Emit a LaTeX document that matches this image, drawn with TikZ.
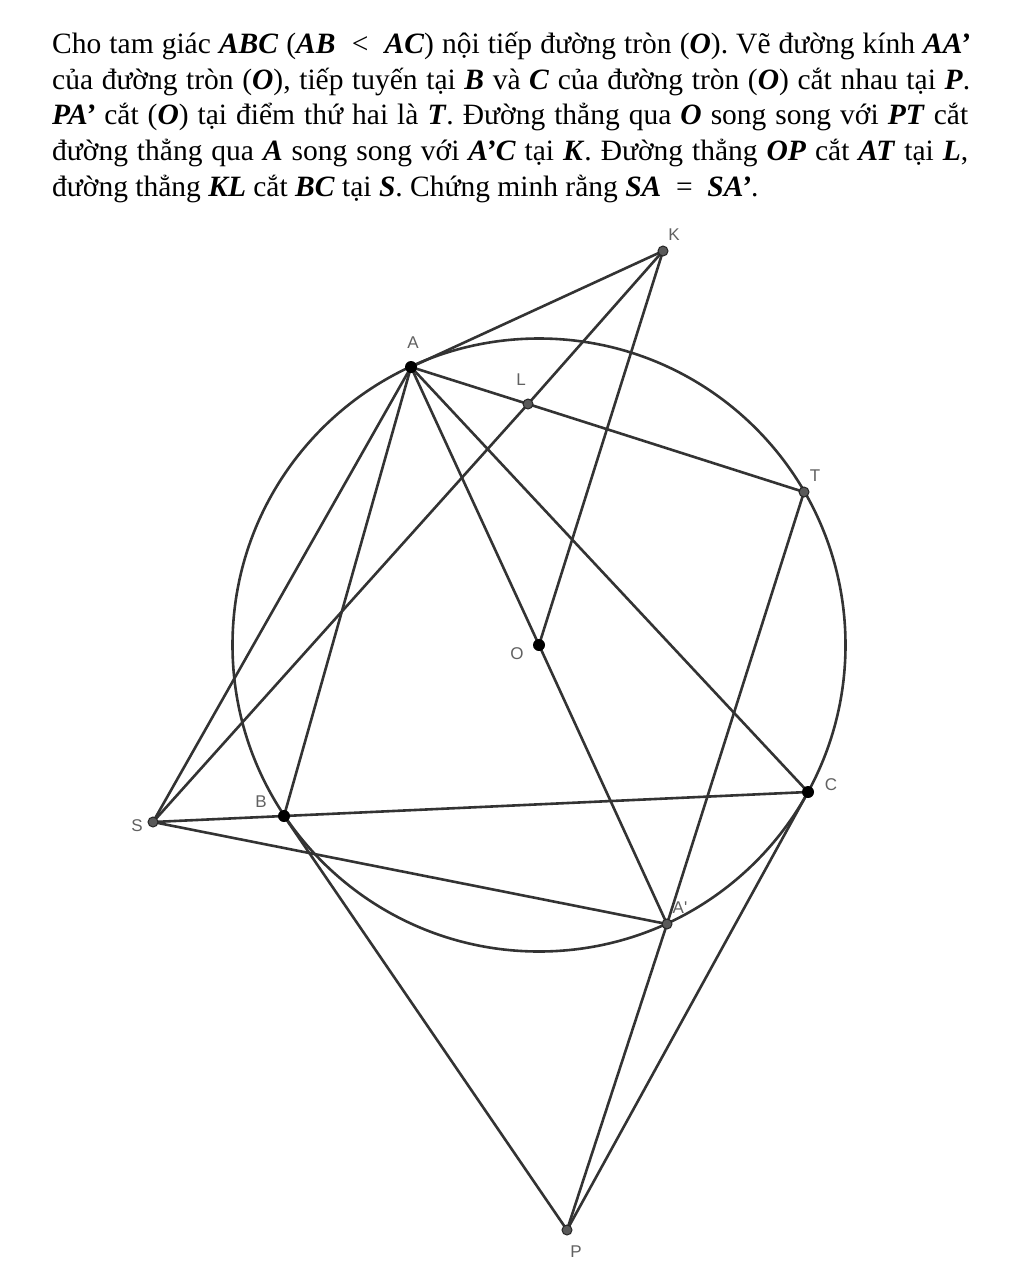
\documentclass[tikz,border=0pt]{standalone}
\usepackage{fontspec}
\setmainfont{Liberation Serif}
\newfontfamily\lblfont{Liberation Sans}
\newcommand\mb[1]{\textbf{\textit{#1}}}
\begin{document}
\begin{tikzpicture}[x=1pt,y=-1pt,
  geo/.style={draw=black!80, line width=2.6pt, line cap=round, line join=round},
  bigpt/.style={circle, fill=black, inner sep=0pt, minimum size=12pt},
  smallpt/.style={circle, fill=black!65, draw=black!85, line width=1pt, inner sep=0pt, minimum size=10pt},
  lbl/.style={font=\lblfont\fontsize{17}{17}\selectfont, text=black!62, inner sep=0pt},
  txt/.style={anchor=base west, inner sep=0pt, font=\fontsize{29.5}{35}\selectfont}]
\useasboundingbox (0,0) rectangle (1027,1275);
\fill[white] (0,0) rectangle (1027,1275);

% text
\node[txt] (l1) at (52,53) {\makebox[918pt][s]{Cho tam giác \mb{ABC} (\mb{AB}\ \ <\ \ \mb{AC}) nội tiếp đường tròn (\mb{O}). Vẽ đường kính \mb{AA’}}};
\node[txt] (l2) at (52,89) {\makebox[918pt][s]{của đường tròn (\mb{O}), tiếp tuyến tại \mb{B} và \mb{C} của đường tròn (\mb{O}) cắt nhau tại \mb{P}.}};
\node[txt] (l3) at (52,124) {\makebox[916pt][s]{\mb{PA’} cắt (\mb{O}) tại điểm thứ hai là \mb{T}. Đường thẳng qua \mb{O} song song với \mb{PT} cắt}};
\node[txt] (l4) at (52,160) {\makebox[916pt][s]{đường thẳng qua \mb{A} song song với \mb{A’C} tại \mb{K}. Đường thẳng \mb{OP} cắt \mb{AT} tại \mb{L},}};
\node[txt] (l5) at (52,196) {đường thẳng \mb{KL} cắt \mb{BC} tại \mb{S}. Chứng minh rằng \mb{SA}\ \ =\ \ \mb{SA’}.};

% points
\coordinate (K) at (663,251);
\coordinate (A) at (411,367);
\coordinate (L) at (528,404);
\coordinate (T) at (804,492);
\coordinate (O) at (539,645);
\coordinate (C) at (808,792);
\coordinate (B) at (284,816);
\coordinate (S) at (153,822);
\coordinate (A1) at (667,924);
\coordinate (P) at (567,1230);

% circle
\draw[geo] (O) circle[radius=306.5];

% segments
\draw[geo] (A) -- (K);
\draw[geo] (K) -- (O);
\draw[geo] (K) -- (L) -- (S);
\draw[geo] (A) -- (L) -- (T);
\draw[geo] (A) -- (B);
\draw[geo] (A) -- (C);
\draw[geo] (A) -- (O) -- (A1);
\draw[geo] (A) -- (S);
\draw[geo] (S) -- (B) -- (C);
\draw[geo] (S) -- (A1);
\draw[geo] (B) -- (P);
\draw[geo] (C) -- (P);
\draw[geo] (P) -- (A1) -- (T);

% dots
\node[bigpt] (pA) at (A) {};
\node[bigpt] (pB) at (B) {};
\node[bigpt] (pC) at (C) {};
\node[bigpt] (pO) at (O) {};
\node[smallpt] (pK) at (K) {};
\node[smallpt] (pL) at (L) {};
\node[smallpt] (pT) at (T) {};
\node[smallpt] (pS) at (S) {};
\node[smallpt] (pA1) at (A1) {};
\node[smallpt] (pP) at (P) {};

% labels
\node[lbl] (tK) at (674,235) {K};
\node[lbl] (tA) at (413,343) {A};
\node[lbl] (tL) at (521,380) {L};
\node[lbl] (tT) at (815,476) {T};
\node[lbl] (tO) at (517,654) {O};
\node[lbl] (tC) at (831,785) {C};
\node[lbl] (tB) at (261,802) {B};
\node[lbl] (tS) at (137,826) {S};
\node[lbl] (tA1) at (680,908) {A'};
\node[lbl] (tP) at (576,1252) {P};
\end{tikzpicture}
\end{document}
